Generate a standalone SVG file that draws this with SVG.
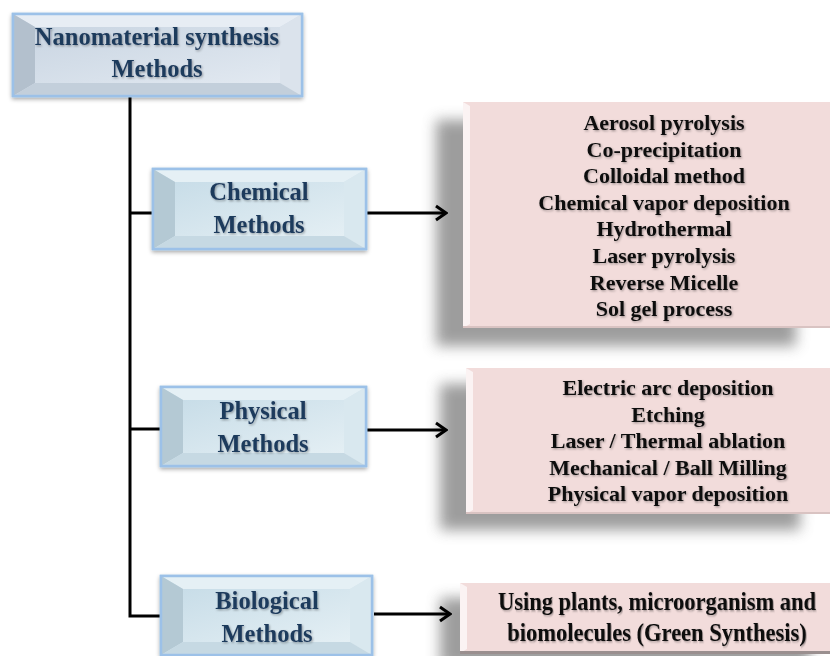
<svg xmlns="http://www.w3.org/2000/svg" width="830" height="656" viewBox="0 0 830 656">
<style>
.lbl{font-family:"Liberation Serif","Times New Roman",serif;font-weight:bold;font-size:24.5px;fill:#1f3a5c;text-anchor:middle;filter:url(#tsh)}
.lst{font-family:"Liberation Serif","Times New Roman",serif;font-weight:bold;font-size:22px;fill:#111;text-anchor:middle;filter:url(#tsh)}
.bio{font-family:"Liberation Serif","Times New Roman",serif;font-weight:bold;font-size:25px;fill:#111;text-anchor:middle;filter:url(#tsh)}
.con{fill:none;stroke:#000;stroke-width:3}
.arr{fill:none;stroke:#000;stroke-width:3;marker-end:url(#ah)}
.outer{stroke:#9cc1e8;stroke-width:2.5;filter:url(#glow)}
.pink{fill:#f2dcdb}
.shd{fill:#7d7d7d;filter:url(#blur);opacity:0.75}
</style>
<defs>
<filter id="tsh" x="-10%" y="-30%" width="120%" height="160%">
<feDropShadow dx="1" dy="1.2" stdDeviation="0.8" flood-color="#000" flood-opacity="0.35"/>
</filter>
<filter id="glow" x="-10%" y="-20%" width="120%" height="140%">
<feGaussianBlur in="SourceAlpha" stdDeviation="2"/>
<feOffset dx="0" dy="2"/>
<feComponentTransfer><feFuncA type="linear" slope="0.35"/></feComponentTransfer>
<feMerge><feMergeNode/><feMergeNode in="SourceGraphic"/></feMerge>
</filter>
<filter id="blur" x="-20%" y="-30%" width="140%" height="160%">
<feGaussianBlur stdDeviation="7"/>
</filter>
<linearGradient id="gTop" x1="0" y1="0" x2="1" y2="1">
<stop offset="0" stop-color="#c9d5e2"/>
<stop offset="1" stop-color="#e2e9f1"/>
</linearGradient>
<linearGradient id="gBlue" x1="0" y1="0" x2="1" y2="1">
<stop offset="0" stop-color="#c8dde8"/>
<stop offset="1" stop-color="#e4eff4"/>
</linearGradient>
<marker id="ah" viewBox="-12 -9 14 18" refX="0" refY="0" markerWidth="14" markerHeight="18" markerUnits="userSpaceOnUse" orient="auto">
<path d="M-10,-7 L0,0 L-10,7" fill="none" stroke="#000" stroke-width="3" stroke-linejoin="miter"/>
</marker>
</defs>
<rect width="830" height="656" fill="#fff"/>

<!-- shadows of list boxes -->
<rect class="shd" x="436" y="120" width="360" height="226"/>
<rect class="shd" x="440" y="384" width="360" height="146"/>
<rect class="shd" x="440" y="598" width="370" height="70"/>

<g id="connectors">
<path class="con" d="M130,96 V616 H161"/>
<path class="con" d="M130,213 H153"/>
<path class="con" d="M130,429 H161"/>
<path class="arr" d="M366,213 H446"/>
<path class="arr" d="M366,430 H446"/>
<path class="arr" d="M374,614 H450"/>
</g>

<g id="root">
<rect class="outer" x="13" y="14" width="289" height="82" fill="url(#gTop)"/>
<polygon points="13,14 302,14 280,27 35,27" fill="#e7edf4"/>
<polygon points="13,14 35,27 35,83 13,96" fill="#b3c0cd"/>
<polygon points="302,14 302,96 280,83 280,27" fill="#dbe3ec"/>
<polygon points="13,96 35,83 280,83 302,96" fill="#c3cfdb"/>
<rect x="35" y="27" width="245" height="56" fill="url(#gTop)"/>
<rect x="13" y="14" width="289" height="82" fill="none" stroke="#9cc1e8" stroke-width="2.5"/>
<text class="lbl" x="157" y="45">Nanomaterial synthesis</text>
<text class="lbl" x="157" y="77">Methods</text>
</g>

<g id="chemical">
<rect class="outer" x="153" y="169" width="213" height="80" fill="url(#gBlue)"/>
<polygon points="153,169 366,169 344,182 175,182" fill="#e5f0f5"/>
<polygon points="153,169 175,182 175,236 153,249" fill="#b4c9d4"/>
<polygon points="366,169 366,249 344,236 344,182" fill="#d9e8ef"/>
<polygon points="153,249 175,236 344,236 366,249" fill="#c6d9e3"/>
<rect x="175" y="182" width="169" height="54" fill="url(#gBlue)"/>
<rect x="153" y="169" width="213" height="80" fill="none" stroke="#9cc1e8" stroke-width="2.5"/>
<text class="lbl" x="259" y="200">Chemical</text>
<text class="lbl" x="259" y="233">Methods</text>
</g>

<g id="physical">
<rect class="outer" x="161" y="387" width="205" height="79" fill="url(#gBlue)"/>
<polygon points="161,387 366,387 344,400 183,400" fill="#e5f0f5"/>
<polygon points="161,387 183,400 183,453 161,466" fill="#b4c9d4"/>
<polygon points="366,387 366,466 344,453 344,400" fill="#d9e8ef"/>
<polygon points="161,466 183,453 344,453 366,466" fill="#c6d9e3"/>
<rect x="183" y="400" width="161" height="53" fill="url(#gBlue)"/>
<rect x="161" y="387" width="205" height="79" fill="none" stroke="#9cc1e8" stroke-width="2.5"/>
<text class="lbl" x="263" y="419">Physical</text>
<text class="lbl" x="263" y="452">Methods</text>
</g>

<g id="biological">
<rect class="outer" x="161" y="576" width="211" height="79" fill="url(#gBlue)"/>
<polygon points="161,576 372,576 350,589 183,589" fill="#e5f0f5"/>
<polygon points="161,576 183,589 183,642 161,655" fill="#b4c9d4"/>
<polygon points="372,576 372,655 350,642 350,589" fill="#d9e8ef"/>
<polygon points="161,655 183,642 350,642 372,655" fill="#c6d9e3"/>
<rect x="183" y="589" width="167" height="53" fill="url(#gBlue)"/>
<rect x="161" y="576" width="211" height="79" fill="none" stroke="#9cc1e8" stroke-width="2.5"/>
<text class="lbl" x="267" y="609">Biological</text>
<text class="lbl" x="267" y="642">Methods</text>
</g>

<g id="chemical-list">
<rect class="pink" x="463" y="102" width="367" height="226"/>
<polygon points="463,102 470,106 470,324 463,328" fill="#fbf3f3"/>
<rect x="463" y="326" width="367" height="2" fill="#d9c3c2"/>
<text class="lst" x="664" y="130">Aerosol pyrolysis</text>
<text class="lst" x="664" y="156.6">Co-precipitation</text>
<text class="lst" x="664" y="183.2">Colloidal method</text>
<text class="lst" x="664" y="209.8">Chemical vapor deposition</text>
<text class="lst" x="664" y="236.4">Hydrothermal</text>
<text class="lst" x="664" y="263">Laser pyrolysis</text>
<text class="lst" x="664" y="289.6">Reverse Micelle</text>
<text class="lst" x="664" y="316.2">Sol gel process</text>
</g>

<g id="physical-list">
<rect class="pink" x="466" y="368" width="364" height="146"/>
<polygon points="466,368 473,372 473,510 466,514" fill="#fbf3f3"/>
<rect x="466" y="512" width="364" height="2" fill="#d9c3c2"/>
<text class="lst" x="668" y="395">Electric arc deposition</text>
<text class="lst" x="668" y="421.6">Etching</text>
<text class="lst" x="668" y="448.2">Laser / Thermal ablation</text>
<text class="lst" x="668" y="474.8">Mechanical / Ball Milling</text>
<text class="lst" x="668" y="501.4">Physical vapor deposition</text>
</g>

<g id="biological-list">
<rect class="pink" x="460" y="583" width="370" height="70"/>
<polygon points="460,583 467,587 467,649 460,653" fill="#fbf3f3"/>
<rect x="460" y="651" width="370" height="3" fill="#9a8f8f"/>
<text class="bio" transform="translate(657,610) scale(0.9,1)">Using plants, microorganism and</text>
<text class="bio" transform="translate(657,641) scale(0.9,1)">biomolecules (Green Synthesis)</text>
</g>
</svg>
